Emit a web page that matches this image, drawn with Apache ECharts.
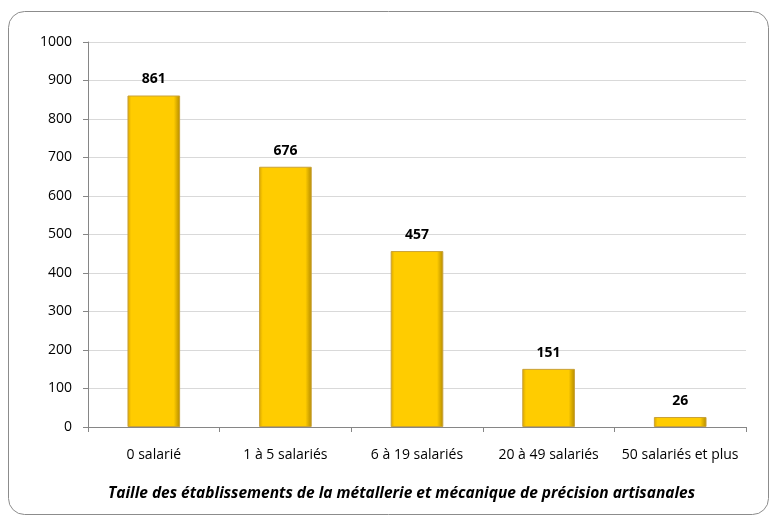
<!DOCTYPE html>
<html lang="fr">
<head>
    <meta charset="UTF-8">
    <title>Taille des établissements</title>
    <style>
        html, body { margin: 0; padding: 0; background: #fff; }
        .mychart { width: 773px; height: 518px; }
    </style>
</head>
<body>
    <div class="mychart"></div>
</body>
<script src="https://cdn.jsdelivr.net/npm/echarts@6/dist/echarts.min.js"></script>
<script>
    // données
    const categories = ['0 salarié', '1 à 5 salariés', '6 à 19 salariés', '20 à 49 salariés', '50 salariés et plus']
    const values = [861, 676, 457, 151, 26]
    const titleText = 'Taille des établissements de la métallerie et mécanique de précision artisanales'

    const myChart = echarts.init(document.querySelector('.mychart'))

    const goldFill = new echarts.graphic.LinearGradient(0, 0, 1, 0, [
        { offset: 0, color: '#d8a500' },
        { offset: 0.07, color: '#ffcc00' },
        { offset: 0.88, color: '#ffcc00' },
        { offset: 1, color: '#b38a00' }
    ])

    const font = '"Open Sans", sans-serif'

    const config = {
        animation: false,
        textStyle: { fontFamily: font },
        // cadre arrondi
        graphic: [{
            type: 'rect',
            shape: { x: 8.5, y: 11.5, width: 760, height: 503, r: 16 },
            style: { fill: 'none', stroke: '#8c8c8c', lineWidth: 1 },
            z: -1
        }, {
            type: 'text',
            left: 108,
            top: 486,
            style: {
                text: titleText,
                font: 'italic bold 15.5px ' + font,
                fill: '#000'
            }
        }],
        grid: { left: 88, right: 27, top: 42, bottom: 91 },
        xAxis: {
            type: 'category',
            data: categories,
            axisLine: { lineStyle: { color: '#868686' } },
            axisTick: { show: true, interval: 0, length: 5, lineStyle: { color: '#868686' } },
            axisLabel: { color: '#000', fontSize: 14, margin: 21, interval: 0 }
        },
        yAxis: {
            type: 'value',
            min: 0,
            max: 1000,
            interval: 100,
            axisLine: { show: true, lineStyle: { color: '#868686' } },
            axisTick: { show: true, length: 5, lineStyle: { color: '#868686' } },
            axisLabel: { color: '#000', fontSize: 14, margin: 16, formatter: v => String(v) },
            splitLine: { lineStyle: { color: '#d9d9d9' } }
        },
        series: [{
            type: 'bar',
            data: values,
            barWidth: '40%',
            itemStyle: {
                color: goldFill,
                borderColor: '#c9a23a',
                borderWidth: 1
            },
            label: {
                show: true,
                position: 'top',
                distance: 9,
                color: '#000',
                fontWeight: 'bold',
                fontSize: 14
            }
        }]
    }

    myChart.setOption(config)
</script>
</html>
